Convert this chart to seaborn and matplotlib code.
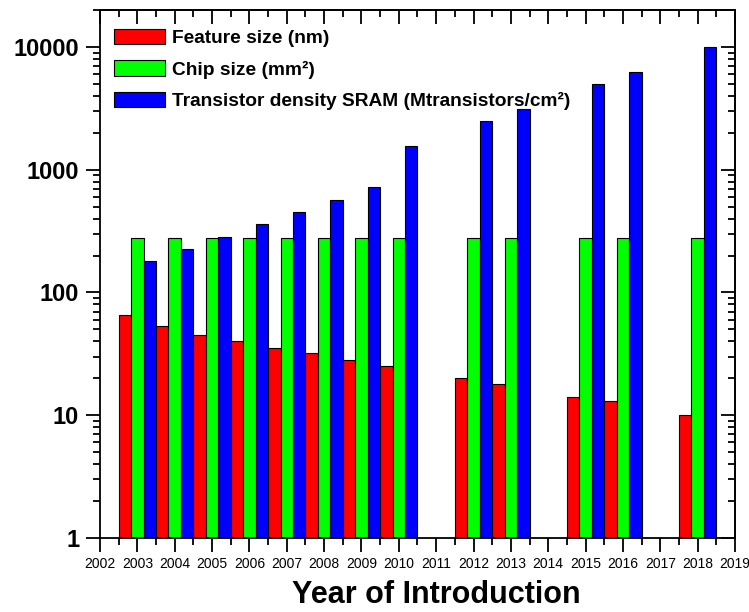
import numpy as np
import pandas as pd
import matplotlib
matplotlib.use("Agg")
import matplotlib.pyplot as plt
import matplotlib.ticker as mticker
import seaborn as sns

# Technology roadmap figures per year of introduction
years = [2003, 2004, 2005, 2006, 2007, 2008, 2009, 2010, 2012, 2013, 2015, 2016, 2018]
feature_size_nm = [65, 53, 45, 40, 35, 32, 28, 25, 20, 18, 14, 13, 10]
chip_size_mm2 = [280, 280, 280, 280, 280, 280, 280, 280, 280, 280, 280, 280, 280]
sram_density = [180, 225, 285, 360, 450, 570, 720, 1560, 2480, 3150, 5000, 6300, 10000]

series_labels = ["Feature size (nm)",
                 "Chip size (mm²)",
                 "Transistor density SRAM (Mtransistors/cm²)"]
series_colors = ["#ff0000", "#00ff00", "#0000ff"]
year_ticks = list(range(2002, 2020))

df = pd.DataFrame({
    "year": years,
    series_labels[0]: feature_size_nm,
    series_labels[1]: chip_size_mm2,
    series_labels[2]: sram_density,
}).melt(id_vars="year", var_name="series", value_name="value")

sns.set_theme(style="ticks")
plt.rcParams["font.family"] = ["Liberation Sans", "DejaVu Sans"]
plt.rcParams.update({
    "axes.linewidth": 1.3,
    "text.color": "black",
    "axes.labelcolor": "black",
    "xtick.color": "black",
    "ytick.color": "black",
    "axes.edgecolor": "black",
})

fig = plt.figure(figsize=(7.49, 6.12), dpi=100)
ax = fig.add_axes([0.1335, 0.1209, 0.8478, 0.8627])

sns.barplot(data=df, x="year", y="value", hue="series",
            hue_order=series_labels, palette=series_colors,
            native_scale=True, width=1.0, gap=0, saturation=1,
            errorbar=None, edgecolor="black", linewidth=0.8, ax=ax)

ax.set_yscale("log")
ax.set_ylim(1, 20000)
ax.set_xlim(2002, 2019)

# bottom / left ticks point outward
ax.set_xticks(year_ticks)
ax.set_xticks(np.arange(2002.5, 2019, 1.0), minor=True)
ax.set_xticklabels([str(y) for y in year_ticks], fontsize=10)
ax.yaxis.set_major_locator(mticker.LogLocator(base=10, numticks=10))
ax.yaxis.set_minor_locator(mticker.LogLocator(base=10, subs=np.arange(2, 10), numticks=20))
ax.yaxis.set_major_formatter(mticker.FuncFormatter(lambda v, p: f"{v:g}"))
ax.yaxis.set_minor_formatter(mticker.NullFormatter())
for lab in ax.get_yticklabels():
    lab.set_fontweight("bold")
    lab.set_fontsize(17)
ax.tick_params(axis="both", which="major", direction="out", length=10, width=1.3,
               colors="black", top=False, right=False)
ax.tick_params(axis="both", which="minor", direction="out", length=5, width=1.3,
               colors="black", top=False, right=False)
ax.tick_params(axis="x", which="major", pad=4)
ax.tick_params(axis="y", which="major", pad=5)

# mirrored ticks on top / right point inward
top = ax.secondary_xaxis("top")
top.set_xticks(year_ticks)
top.set_xticks(np.arange(2002.5, 2019, 1.0), minor=True)
top.tick_params(which="major", direction="in", length=10, width=1.3, labeltop=False)
top.tick_params(which="minor", direction="in", length=5, width=1.3, labeltop=False)

right = ax.secondary_yaxis("right")
right.tick_params(which="major", direction="in", length=10, width=1.3, labelright=False)
right.tick_params(which="minor", direction="in", length=5, width=1.3, labelright=False)

for s in ax.spines.values():
    s.set_color("black")
    s.set_linewidth(1.3)

ax.set_ylabel("")
ax.set_xlabel("Year of Introduction", fontsize=22, fontweight="bold", color="black")
ax.xaxis.set_label_coords(0.53, -0.079)

sns.move_legend(ax, "upper left", bbox_to_anchor=(0.022, 0.964), title=None,
                frameon=False, borderaxespad=0, borderpad=0,
                prop={"weight": "bold", "size": 13.8},
                handlelength=2.65, handleheight=0.85, handletextpad=0.4,
                labelspacing=0.68)
leg = ax.get_legend()
for h in leg.legend_handles:
    h.set_edgecolor("black")
    h.set_linewidth(0.8)
for t in leg.get_texts():
    t.set_color("black")

fig.savefig("out.png", dpi=100)
